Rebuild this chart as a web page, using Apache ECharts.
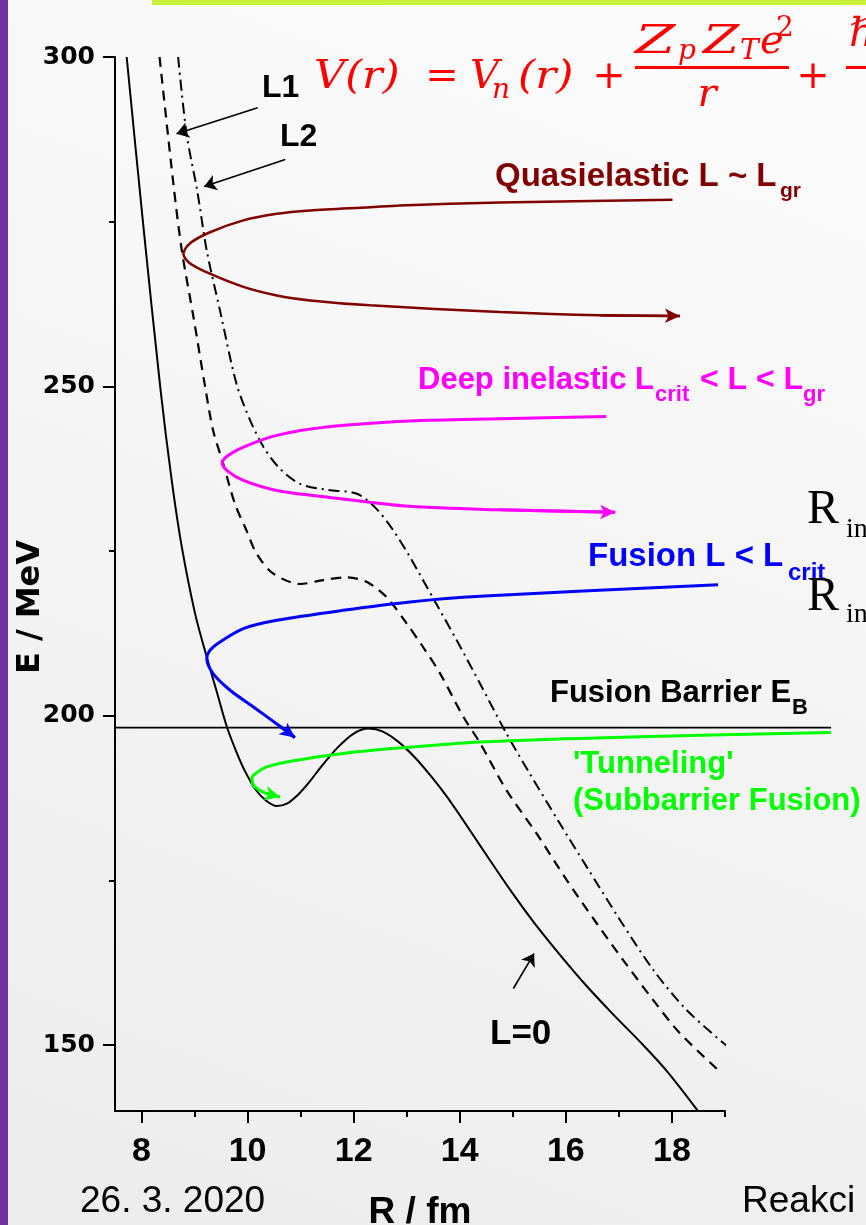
<!DOCTYPE html>
<html>
<head>
<meta charset="utf-8">
<script src="https://cdn.jsdelivr.net/npm/echarts@6/dist/echarts.min.js"></script>
<style>
html,body{margin:0;padding:0;}
#main{width:866px;height:1225px;background:linear-gradient(200deg,#fcfcfc 0%,#f4f4f4 50%,#ececec 100%);}
</style>
</head>
<body>
<div id="main"></div>
<script>
// ---- axis ticks / labels ----
const xMajorTicks = [8, 10, 12, 14, 16, 18];
const xMinorTicks = [9, 11, 13, 15, 17, 19];
const yMajorTicks = [150, 200, 250, 300];
const yMinorTicks = [175, 225, 275];

// ---- potentials [R (fm), E (MeV)] ----
const potentialL0 = [[7.72,300],[8.03,274.7],[8.36,249.4],[8.57,235.7],[8.76,225.6],[9.01,215.5],[9.23,208.9],[9.42,203.6],[9.61,198.3],[9.8,194.3],[9.95,191.6],[10.15,188.8],[10.35,187.1],[10.55,186.3],[10.75,186.7],[10.95,188.0],[11.15,189.8],[11.4,192.4],[11.7,195.2],[12.0,197.3],[12.28,198.05],[12.55,197.6],[12.85,196.0],[13.15,193.7],[13.45,190.9],[13.75,187.8],[14.05,184.3],[14.4,180.1],[14.7,176.5],[15.0,173.0],[15.4,168.6],[15.9,163.6],[16.4,158.9],[16.9,154.6],[17.4,150.5],[17.9,146.1],[18.5,139.9]];
const potentialL1 = [[8.34,300],[8.60,280.8],[8.76,270.6],[8.98,260.5],[9.20,249.9],[9.35,243.3],[9.54,238.3],[9.76,232.2],[9.98,228.1],[10.17,224.6],[10.48,221.6],[10.99,220.0],[11.43,220.6],[11.87,221.0],[12.25,220.3],[12.62,218.0],[13.0,214.0],[13.31,210.4],[13.63,206.4],[14.07,199.8],[14.38,195.9],[14.88,188.7],[15.45,182.1],[16.02,175.0],[16.58,168.5],[17.08,162.9],[17.65,156.8],[18.15,151.8],[18.94,145.7]];
const potentialL2 = [[8.69,300],[8.85,288.3],[9.05,279.7],[9.23,270.6],[9.48,261.5],[9.79,250.4],[10.05,244.8],[10.30,240.8],[10.61,237.5],[10.99,235.2],[11.49,234.3],[12.06,233.7],[12.43,231.4],[12.75,228.1],[13.06,224.1],[13.5,217.8],[13.94,211.5],[14.38,204.9],[14.88,197.3],[15.32,191.2],[15.89,183.6],[16.39,177.1],[17.02,169.0],[17.65,161.4],[18.28,155.3],[19.06,149.7]];

// ---- trajectories ----
const quasielastic = [[18.01,278.33],[14.76,277.9],[12.87,277.47],[12.31,277.2],[11.18,276.7],[10.55,276.2],[9.92,275.2],[9.29,273.4],[8.91,271.7],[8.79,270.1],[8.91,268.7],[9.29,267.1],[9.92,265.1],[10.55,263.8],[11.18,263.05],[12.31,262.3],[14.76,261.3],[16.64,260.8],[18.15,260.7]];
const deepInelastic = [[16.76,245.43],[14.76,245.07],[13.06,244.73],[11.49,243.82],[10.55,242.56],[9.92,240.79],[9.63,239.5],[9.52,238.36],[9.63,237.1],[9.92,235.73],[10.55,234.2],[11.49,233.2],[13.06,231.79],[14.76,231.26],[16.93,230.88]];
const fusion = [[18.87,219.9],[14.38,218.13],[13.06,217.27],[11.80,216.0],[10.55,214.49],[9.92,213.23],[9.48,211.2],[9.29,209.94],[9.23,208.68],[9.35,206.4],[9.67,203.87],[10.11,201.33],[10.61,198.4],[10.89,196.69]];
const tunneling = [[21.0,197.45],[17.40,196.81],[14.38,196.02],[13.12,195.26],[11.87,194.35],[10.93,193.25],[10.36,192.23],[10.11,190.97],[10.08,190.47],[10.14,189.2],[10.36,188.19],[10.61,187.68]];

const fusionBarrierE = 198.2;
const barrierRange = [7.5, 21];

// ---- pointer arrows [from, to] ----
const pointerL1 = [[10.19,292.3],[8.66,288.35]];
const pointerL2 = [[10.71,284.45],[9.18,280.35]];
const pointerL0 = [[15.01,158.6],[15.40,163.9]];

const chart = echarts.init(document.getElementById('main'), null, {renderer:'canvas'});

function traj(name, data, color, width, gridAxis) {
  const n = data.length;
  return {
    type:'line', name:name, data:data, showSymbol:false, symbol:'none', smooth:0.3, clip:false,
    xAxisIndex:gridAxis, yAxisIndex:gridAxis,
    lineStyle:{color:color, width:width}, silent:true, z:4,
    markLine:{silent:true, symbol:['none','arrow'], symbolSize:[11,15], label:{show:false},
      lineStyle:{color:color, width:width, type:'solid'}, emphasis:{disabled:true}, animation:false,
      data:[[{coord:data[n-2]},{coord:data[n-1]}]]}
  };
}

function txt(s, x, baseline, size, color, extra) {
  return {type:'text', x:x, y:baseline - 0.3*size, z:100, silent:true,
    style:Object.assign({text:s, fill:color, fontSize:size, fontFamily:'"Liberation Sans", Arial, sans-serif',
      fontWeight:'bold', align:'left', verticalAlign:'middle'}, extra || {})};
}
const red = '#ff0000';
const mathFont = '"DejaVu Serif", serif';
function mth(s, x, baseline, size, extra, sx) {
  const t = txt(s, x, baseline, size, red, Object.assign({fontFamily:mathFont, fontWeight:'normal', fontStyle:'italic'}, extra || {}));
  if (sx) t.scaleX = sx;
  return t;
}

const graphics = [
  {type:'rect', z:100, silent:true, shape:{x:0,y:0,width:8,height:1225}, style:{fill:'#7030a0'}},
  {type:'rect', z:100, silent:true, shape:{x:152,y:0,width:714,height:5}, style:{fill:'#c9f03a'}},
  // formula
  mth('V(r)', 314, 90, 40, null, 1.08),
  mth('=', 442, 90, 40, {align:'center', fontStyle:'normal'}),
  mth('V', 470, 90, 40),
  mth('n', 492, 99, 28),
  mth('(r)', 518, 90, 40, null, 1.1),
  mth('+', 609, 90, 40, {align:'center', fontStyle:'normal'}),
  mth('Z', 635, 55, 40, null, 1.45),
  mth('p', 678, 60, 28),
  mth('Z', 703, 55, 40, null, 1.3),
  mth('T', 740, 60, 28),
  mth('e', 760, 55, 40),
  mth('2', 776, 37, 28, {fontStyle:'normal'}),
  {type:'rect', z:100, silent:true, shape:{x:635,y:66,width:154,height:3}, style:{fill:red}},
  mth('r', 707, 108, 40, {align:'center'}),
  mth('+', 813, 90, 40, {align:'center', fontStyle:'normal'}),
  mth('\u210F', 849, 48, 40),
  {type:'rect', z:100, silent:true, shape:{x:846,y:66,width:30,height:3}, style:{fill:red}},
  // labels
  txt('L1', 262, 98, 32, '#000'),
  txt('L2', 280, 147, 32, '#000'),
  txt('Quasielastic L ~ L', 495, 187, 33, '#800000'),
  txt('gr', 780, 198, 21, '#800000'),
  txt('Deep inelastic L', 418, 390, 31, '#ff00ff'),
  txt('crit', 655, 402, 22, '#ff00ff'),
  txt('< L < L', 700, 390, 32, '#ff00ff'),
  txt('gr', 803, 402, 22, '#ff00ff'),
  txt('Fusion L < L', 588, 567, 33, '#0000ff'),
  txt('crit', 788, 581, 24, '#0000ff'),
  txt('Fusion Barrier E', 550, 703, 31, '#000'),
  txt('B', 792, 715, 22, '#000'),
  txt("'Tunneling'", 573, 774, 31, '#00ff00'),
  txt('(Subbarrier Fusion)', 573, 811, 31, '#00ff00'),
  txt('L=0', 490, 1045, 35, '#000'),
  // R_in
  txt('R', 807, 525, 48, '#000', {fontFamily:'"Liberation Serif", serif', fontWeight:'normal'}),
  txt('in', 846, 538, 28, '#000', {fontFamily:'"Liberation Serif", serif', fontWeight:'normal'}),
  txt('R', 807, 612, 48, '#000', {fontFamily:'"Liberation Serif", serif', fontWeight:'normal'}),
  txt('in', 846, 623, 28, '#000', {fontFamily:'"Liberation Serif", serif', fontWeight:'normal'}),
  // footer
  txt('26. 3. 2020', 80, 1213, 37, '#000', {fontWeight:'normal'}),
  txt('Reakci', 742, 1213, 37, '#000', {fontWeight:'normal'}),
  // y axis name
  {type:'text', x:30.5, y:607, rotation:Math.PI/2, z:100, silent:true,
    style:{text:'E / MeV', fill:'#000', fontSize:32, fontFamily:'"DejaVu Sans", sans-serif', fontWeight:'bold', align:'center', verticalAlign:'middle'}}
];

const axisCommon = {color:'#000', width:2};
const pxPerFm = 610 / (19 - 7.5);

const option = {
  animation:false,
  backgroundColor:'transparent',
  grid:[
    {left:115, top:57, width:610, height:1054, containLabel:false, outerBoundsMode:'none'},
    // wider twin grid with identical scale, for marks that run past the axis end
    {left:115, top:57, width:(21.5 - 7.5) * pxPerFm, height:1054, containLabel:false, outerBoundsMode:'none'}
  ],
  xAxis:[
    {type:'value', gridIndex:0, min:7.5, max:19, position:'bottom',
      name:'R / fm', nameLocation:'middle', nameGap:83,
      nameTextStyle:{fontFamily:'"Liberation Sans", Arial, sans-serif', fontWeight:'bold', fontSize:37, color:'#000'},
      axisLine:{show:true, onZero:false, lineStyle:axisCommon},
      axisTick:{show:true, customValues:xMajorTicks, length:12, lineStyle:axisCommon},
      axisLabel:{show:true, customValues:xMajorTicks, fontFamily:'"Liberation Sans", Arial, sans-serif', fontWeight:'bold', fontSize:34, color:'#000', margin:24},
      splitLine:{show:false}},
    {type:'value', gridIndex:1, min:7.5, max:21.5, show:false, position:'bottom', splitLine:{show:false}},
    {type:'value', gridIndex:0, min:7.5, max:19, position:'bottom',
      axisLine:{show:false, onZero:false},
      axisTick:{show:true, customValues:xMinorTicks, length:6, lineStyle:axisCommon},
      axisLabel:{show:false}, splitLine:{show:false}}
  ],
  yAxis:[
    {type:'value', gridIndex:0, min:140, max:300, position:'left',
      axisLine:{show:true, onZero:false, lineStyle:axisCommon},
      axisTick:{show:true, customValues:yMajorTicks, length:12, lineStyle:axisCommon},
      axisLabel:{show:true, customValues:yMajorTicks, fontFamily:'"DejaVu Sans", sans-serif', fontWeight:'bold', fontSize:25, color:'#000', margin:20},
      splitLine:{show:false}},
    {type:'value', gridIndex:1, min:140, max:300, show:false, position:'left', splitLine:{show:false}},
    {type:'value', gridIndex:0, min:140, max:300, position:'left',
      axisLine:{show:false, onZero:false},
      axisTick:{show:true, customValues:yMinorTicks, length:6, lineStyle:axisCommon},
      axisLabel:{show:false}, splitLine:{show:false}}
  ],
  series:[
    {type:'line', name:'L=0', data:potentialL0, showSymbol:false, symbol:'none', smooth:0.3, silent:true, z:3,
      lineStyle:{color:'#000', width:2}},
    {type:'line', name:'L1', data:potentialL1, showSymbol:false, symbol:'none', smooth:0.3, silent:true, z:3,
      lineStyle:{color:'#000', width:2.2, type:[10,7]}},
    {type:'line', name:'L2', data:potentialL2, showSymbol:false, symbol:'none', smooth:0.3, silent:true, z:3,
      lineStyle:{color:'#000', width:2, type:[11,5,2,5]}},
    {type:'line', name:'Fusion Barrier', xAxisIndex:1, yAxisIndex:1,
      data:[[barrierRange[0], fusionBarrierE],[barrierRange[1], fusionBarrierE]],
      showSymbol:false, symbol:'none', silent:true, z:3, lineStyle:{color:'#000', width:1.6}},
    traj('Quasielastic', quasielastic, '#800000', 2.5, 0),
    traj('Deep inelastic', deepInelastic, '#ff00ff', 3, 0),
    traj('Fusion', fusion, '#0000ff', 3, 1),
    traj('Tunneling', tunneling, '#00ff00', 3, 1),
    {type:'lines', coordinateSystem:'cartesian2d', xAxisIndex:0, yAxisIndex:0, silent:true, z:5,
      symbol:['none','arrow'], symbolSize:12,
      lineStyle:{color:'#000', width:1.6, opacity:1, curveness:0},
      data:[{coords:pointerL1},{coords:pointerL2},{coords:pointerL0}]}
  ],
  graphic:graphics
};
chart.setOption(option);
</script>
</body>
</html>
